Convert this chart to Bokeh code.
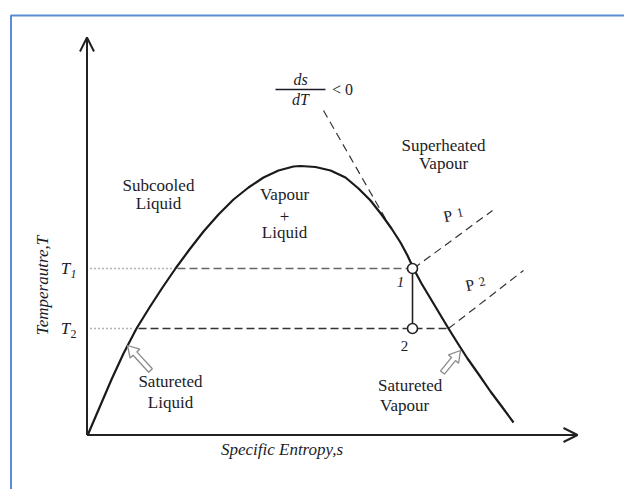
import math

from bokeh.core.properties import value
from bokeh.embed import file_html
from bokeh.models import Arrow, OpenHead, Range1d
from bokeh.plotting import figure
from bokeh.resources import INLINE

# Saturation dome on the T-s plane (specific entropy s, temperature T), diagram units
dome_s = [0.5, 12.5, 24.5, 36.5, 49.5, 62.5, 75.5, 88.5, 102.5, 116.5, 131.5, 146.5,
          161.5, 176.5, 191.5, 206.5, 213.5, 228.5, 243.5, 258.5, 271.5, 283.5, 294.5,
          304.5, 313.5, 320.5, 326.5, 334.5, 343.5, 352.5, 361.5, 371.5, 380.5, 392.5,
          403.5, 415.5, 426.5]
dome_T = [-0.5, 27.5, 55.5, 81.5, 106.5, 127.5, 147.5, 166.5, 185.5, 203.5, 220.5, 235.5,
          247.5, 257.5, 264.5, 268.5, 269.0, 268.0, 264.5, 257.5, 246.5, 234.5, 220.5,
          206.5, 192.5, 179.5, 166.5, 151.5, 136.5, 121.5, 106.5, 90.5, 76.5, 59.5,
          43.5, 27.5, 12.5]

# Two saturation temperatures and where they meet the dome
T1 = 166.5
T2 = 106.5
s_liq = [88.5, 49.5]      # saturated-liquid entropy at T1, T2
s_vap = [326.5, 361.5]    # saturated-vapour entropy at T1, T2

# Isentropic expansion 1 -> 2
state_s = [325.5, 325.5]
state_T = [T1, T2]

# Isobars P1, P2 running into the superheated region
p1_s = [326.5, 405.5]
p1_T = [T1, 224.5]
p2_s = [361.5, 436.5]
p2_T = [T2, 164.5]

# Tangent to the vapour line where ds/dT < 0
slope_s = [236.5, 299.5]
slope_T = [324.5, 214.5]

# Axis extents
s_axis_end = 490.5
T_axis_end = 397.5

INK = "#1c1c28"
SERIF = value("Liberation Serif")

p = figure(width=624, height=489, output_backend="svg", toolbar_location=None,
           x_range=Range1d(-86.5, 537.5), y_range=Range1d(-54.5, 434.5),
           x_axis_type=None, y_axis_type=None, min_border=0,
           outline_line_color=None, background_fill_color="white",
           border_fill_color="white")
p.grid.visible = False

# page frame
p.line([-76, -76, 537.5], [-54.5, 419.5, 419.5], line_color="#5b8bd3", line_width=2)

# axes with open arrow heads
p.add_layout(Arrow(end=OpenHead(size=14, line_width=2, line_color="#222222"),
                   x_start=0, y_start=0, x_end=s_axis_end, y_end=0,
                   line_width=2, line_color="#222222"))
p.add_layout(Arrow(end=OpenHead(size=14, line_width=2, line_color="#222222"),
                   x_start=0, y_start=0, x_end=0, y_end=T_axis_end,
                   line_width=2, line_color="#222222"))

# dotted leaders from the T axis, dashed constant-temperature lines inside the dome
for T, sl, sv, col in [(T1, s_liq[0], s_vap[0], "#666666"), (T2, s_liq[1], s_vap[1], "#333333")]:
    p.line([3.5, sl - 3], [T, T], line_color="#666666", line_width=1.3, line_dash="1 3")
    p.line([sl + 2, sv], [T, T], line_color=col, line_width=1.3, line_dash="8 4")

# isobars and the tangent
p.line(p1_s, p1_T, line_color="#333333", line_width=1.2, line_dash="8 5")
p.line(p2_s, p2_T, line_color="#333333", line_width=1.2, line_dash="8 5")
p.line(slope_s, slope_T, line_color="#333333", line_width=1.2, line_dash="8 5")

# dome
p.line(dome_s, dome_T, line_color="#1a1a1a", line_width=2.2, line_join="round")

# expansion 1 -> 2
p.line(state_s, state_T, line_color="#222222", line_width=1.6)
p.scatter(state_s, state_T, marker="circle", size=10, fill_color="white",
          line_color="#222222", line_width=1.6)


def hollow_arrow(tail, tip, shaft=5.0, head_w=13.0, head_l=11.0):
    dx, dy = tip[0] - tail[0], tip[1] - tail[1]
    L = math.hypot(dx, dy)
    ux, uy = dx / L, dy / L
    nx, ny = -uy, ux
    neck = (tip[0] - ux * head_l, tip[1] - uy * head_l)
    pts = [
        (tail[0] + nx * shaft / 2, tail[1] + ny * shaft / 2),
        (neck[0] + nx * shaft / 2, neck[1] + ny * shaft / 2),
        (neck[0] + nx * head_w / 2, neck[1] + ny * head_w / 2),
        tip,
        (neck[0] - nx * head_w / 2, neck[1] - ny * head_w / 2),
        (neck[0] - nx * shaft / 2, neck[1] - ny * shaft / 2),
        (tail[0] - nx * shaft / 2, tail[1] - ny * shaft / 2),
    ]
    p.patch([q[0] for q in pts], [q[1] for q in pts], fill_color="white",
            line_color="#8a8a8a", line_width=1.3)


hollow_arrow((63.5, 64.5), (40.5, 89.5))
hollow_arrow((355.5, 62.5), (373.5, 84.5))


def label(x, y, txt, size="17px", style="normal", align="center", baseline="alphabetic", angle=0.0):
    p.text(x=[x], y=[y], text=[txt], text_font=SERIF, text_font_size=size,
           text_font_style=style, text_align=align, text_baseline=baseline,
           text_color=INK, angle=angle)


# region names
label(71.5, 249.5, "Subcooled")
label(71.5, 231.5, "Liquid")
label(197.5, 240.5, "Vapour")
label(197.5, 218.5, "+")
label(197.5, 202.5, "Liquid")
label(356.5, 289.5, "Superheated")
label(356.5, 271.5, "Vapour")
label(83.5, 53.5, "Satureted")
label(83.5, 32.5, "Liquid")
label(291, 49.5, "Satureted", align="left")
label(293, 29.5, "Vapour", align="left")

# state numbers
label(313.5, 153.5, "1", size="15px", style="italic", baseline="middle")
label(317.5, 89.5, "2", size="15px", baseline="middle")

# isobar labels
label(361, 219, "P", size="16px", angle=0.22, baseline="middle")
label(373, 222, "1", size="13px", angle=0.22, baseline="middle")
label(383, 150, "P", size="16px", angle=0.22, baseline="middle")
label(395, 153, "2", size="13px", angle=0.22, baseline="middle")

# ds/dT < 0
label(213.5, 355.5, "ds", size="16px", style="italic", baseline="middle")
p.line([188.5, 238.5], [345.5, 345.5], line_color=INK, line_width=1.4)
label(213.5, 335.5, "dT", size="16px", style="italic", baseline="middle")
label(255.5, 345.5, "< 0", size="16px", baseline="middle")

# temperature ticks
label(-21.5, T1, "T", size="17px", style="italic", baseline="middle")
label(-13.5, T1 - 5, "1", size="12px", style="italic", baseline="middle")
label(-21.5, T2, "T", size="17px", style="italic", baseline="middle")
label(-13.5, T2 - 5, "2", size="12px", baseline="middle")

# axis titles
label(195, -14.5, "Specific Entropy,s", style="italic", baseline="middle")
label(-44.5, 149.5, "Temperautre,T", style="italic", baseline="middle", angle=math.pi / 2)

open("out.html", "w").write(file_html(p, INLINE))
